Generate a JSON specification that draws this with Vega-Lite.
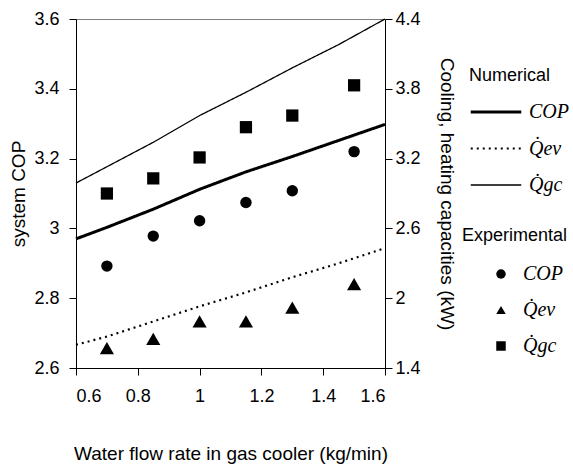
{
  "$schema": "https://vega.github.io/schema/vega-lite/v6.json",
  "width": 309,
  "height": 349,
  "autosize": "none",
  "padding": {"left": 76, "top": 19, "right": 188, "bottom": 98},
  "background": "white",
  "config": {
    "font": "Liberation Sans",
    "view": {"stroke": "#808080", "strokeWidth": 1},
    "axis": {
      "grid": false,
      "domainColor": "black",
      "tickColor": "black",
      "labelColor": "black",
      "titleColor": "black",
      "labelFont": "Liberation Sans",
      "titleFont": "Liberation Sans",
      "labelFontSize": 18,
      "titleFontSize": 19,
      "titleFontWeight": "normal",
      "tickSize": 7,
      "domainWidth": 1,
      "tickWidth": 1
    },
    "legend": {
      "orient": "none",
      "titleFont": "Liberation Sans",
      "titleFontSize": 18,
      "titleFontWeight": "normal",
      "titleColor": "black",
      "labelFont": "Liberation Serif",
      "labelFontStyle": "italic",
      "labelFontSize": 20,
      "labelColor": "black"
    }
  },
  "datasets": {
    "num": [
      {"flow": 0.6, "model": "COP", "value": 2.970},
      {"flow": 0.7, "model": "COP", "value": 3.003},
      {"flow": 0.85, "model": "COP", "value": 3.055},
      {"flow": 1.0, "model": "COP", "value": 3.112},
      {"flow": 1.15, "model": "COP", "value": 3.162},
      {"flow": 1.3, "model": "COP", "value": 3.206},
      {"flow": 1.45, "model": "COP", "value": 3.252},
      {"flow": 1.6, "model": "COP", "value": 3.298},
      {"flow": 0.6, "model": "Qev", "value": 1.60},
      {"flow": 0.7, "model": "Qev", "value": 1.67},
      {"flow": 0.85, "model": "Qev", "value": 1.80},
      {"flow": 1.0, "model": "Qev", "value": 1.93},
      {"flow": 1.15, "model": "Qev", "value": 2.05},
      {"flow": 1.3, "model": "Qev", "value": 2.18},
      {"flow": 1.45, "model": "Qev", "value": 2.30},
      {"flow": 1.6, "model": "Qev", "value": 2.43},
      {"flow": 0.6, "model": "Qgc", "value": 2.99},
      {"flow": 0.7, "model": "Qgc", "value": 3.13},
      {"flow": 0.85, "model": "Qgc", "value": 3.34},
      {"flow": 1.0, "model": "Qgc", "value": 3.57},
      {"flow": 1.15, "model": "Qgc", "value": 3.77},
      {"flow": 1.3, "model": "Qgc", "value": 3.98},
      {"flow": 1.45, "model": "Qgc", "value": 4.18},
      {"flow": 1.6, "model": "Qgc", "value": 4.40}
    ],
    "exp": [
      {"flow": 0.7, "measured": "COP", "value": 2.892},
      {"flow": 0.85, "measured": "COP", "value": 2.978},
      {"flow": 1.0, "measured": "COP", "value": 3.022},
      {"flow": 1.15, "measured": "COP", "value": 3.074},
      {"flow": 1.3, "measured": "COP", "value": 3.108},
      {"flow": 1.5, "measured": "COP", "value": 3.220},
      {"flow": 0.7, "measured": "Q̇ev", "value": 1.57},
      {"flow": 0.85, "measured": "Q̇ev", "value": 1.65},
      {"flow": 1.0, "measured": "Q̇ev", "value": 1.80},
      {"flow": 1.15, "measured": "Q̇ev", "value": 1.80},
      {"flow": 1.3, "measured": "Q̇ev", "value": 1.92},
      {"flow": 1.5, "measured": "Q̇ev", "value": 2.12},
      {"flow": 0.7, "measured": "Q̇gc", "value": 2.90},
      {"flow": 0.85, "measured": "Q̇gc", "value": 3.03},
      {"flow": 1.0, "measured": "Q̇gc", "value": 3.21},
      {"flow": 1.15, "measured": "Q̇gc", "value": 3.47},
      {"flow": 1.3, "measured": "Q̇gc", "value": 3.57},
      {"flow": 1.5, "measured": "Q̇gc", "value": 3.83}
    ]
  },
  "encoding": {
    "x": {
      "field": "flow",
      "type": "quantitative",
      "scale": {"domain": [0.6, 1.6], "nice": false, "zero": false},
      "axis": {
        "values": [0.6, 0.8, 1, 1.2, 1.4, 1.6],
        "format": "~g",
        "title": "Water flow rate in gas cooler (kg/min)",
        "labelPadding": 12,
        "titlePadding": 39
      }
    }
  },
  "layer": [
    {
      "layer": [
        {
          "data": {"name": "num"},
          "transform": [{"filter": "datum.model == 'COP'"}],
          "mark": {"type": "line", "color": "black"},
          "encoding": {
            "y": {
              "field": "value",
              "type": "quantitative",
              "scale": {"domain": [2.6, 3.6], "nice": false, "zero": false},
              "axis": {
                "orient": "left",
                "values": [2.6, 2.8, 3, 3.2, 3.4, 3.6],
                "format": "~g",
                "title": "system COP",
                "labelPadding": 10,
                "titlePadding": 5
              }
            },
            "strokeDash": {
              "field": "model",
              "type": "nominal",
              "scale": {"domain": ["COP", "Qev", "Qgc"], "range": [[1, 0], [2, 4], [1, 0]]},
              "legend": {"title": "Numerical", "legendX": 393, "legendY": 48, "symbolType": "stroke", "symbolSize": 2550, "labelOffset": 6, "rowPadding": 0, "titlePadding": 0, "symbolStrokeColor": "black", "labelExpr": "datum.label == 'COP' ? 'COP' : 'Q̇' + slice(datum.label, 1)"}
            },
            "strokeWidth": {
              "field": "model",
              "type": "nominal",
              "scale": {"domain": ["COP", "Qev", "Qgc"], "range": [3, 1.3, 1]},
              "legend": {"title": "Numerical", "legendX": 393, "legendY": 48, "symbolType": "stroke", "symbolSize": 2550, "labelOffset": 6, "rowPadding": 0, "titlePadding": 0, "symbolStrokeColor": "black", "labelExpr": "datum.label == 'COP' ? 'COP' : 'Q̇' + slice(datum.label, 1)"}
            }
          }
        },
        {
          "data": {"name": "exp"},
          "transform": [{"filter": "datum.measured == 'COP'"}],
          "mark": {"type": "point", "filled": true, "color": "black", "opacity": 1, "size": 130},
          "encoding": {
            "y": {"field": "value", "type": "quantitative", "scale": {"domain": [2.6, 3.6], "nice": false, "zero": false}},
            "shape": {
              "field": "measured",
              "type": "nominal",
              "scale": {"domain": ["COP", "Q̇ev", "Q̇gc"], "range": ["circle", "triangle-up", "square"]},
              "legend": {"title": "Experimental", "legendX": 386, "legendY": 208, "symbolSize": 90, "symbolOffset": 29, "labelOffset": 12, "rowPadding": 16, "titlePadding": 19, "symbolFillColor": "black", "symbolStrokeColor": "black"}
            }
          }
        }
      ]
    },
    {
      "layer": [
        {
          "data": {"name": "num"},
          "transform": [{"filter": "datum.model != 'COP'"}],
          "mark": {"type": "line", "color": "black"},
          "encoding": {
            "y": {
              "field": "value",
              "type": "quantitative",
              "scale": {"domain": [1.4, 4.4], "nice": false, "zero": false},
              "axis": {
                "orient": "right",
                "values": [1.4, 2, 2.6, 3.2, 3.8, 4.4],
                "format": "~g",
                "title": "Cooling, heating capacities (kW)",
                "labelPadding": 3,
                "titlePadding": 16
              }
            },
            "strokeDash": {"field": "model", "type": "nominal"},
            "strokeWidth": {"field": "model", "type": "nominal"}
          }
        },
        {
          "data": {"name": "exp"},
          "transform": [{"filter": "datum.measured == 'Q̇ev'"}],
          "mark": {"type": "point", "filled": true, "color": "black", "opacity": 1, "size": 200},
          "encoding": {
            "y": {"field": "value", "type": "quantitative", "scale": {"domain": [1.4, 4.4], "nice": false, "zero": false}},
            "shape": {"field": "measured", "type": "nominal"}
          }
        },
        {
          "data": {"name": "exp"},
          "transform": [{"filter": "datum.measured == 'Q̇gc'"}],
          "mark": {"type": "point", "filled": true, "color": "black", "opacity": 1, "size": 150},
          "encoding": {
            "y": {"field": "value", "type": "quantitative", "scale": {"domain": [1.4, 4.4], "nice": false, "zero": false}},
            "shape": {"field": "measured", "type": "nominal"}
          }
        }
      ]
    }
  ],
  "resolve": {"scale": {"y": "independent"}}
}
